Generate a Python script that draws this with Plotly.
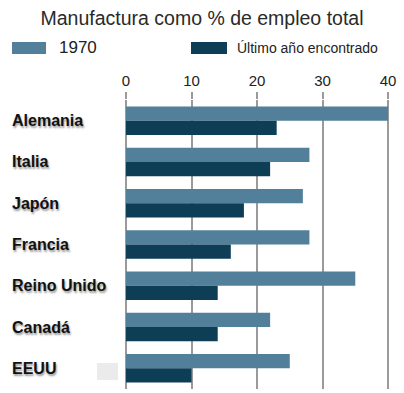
import plotly.graph_objects as go

countries = ["Alemania", "Italia", "Japón", "Francia", "Reino Unido", "Canadá", "EEUU"]
v1970 = [40, 28, 27, 28, 35, 22, 25]
vlatest = [23, 22, 18, 16, 14, 14, 10]
xticks = [0, 10, 20, 30, 40]

W, H = 404, 393
L, R, T, B = 126, 14, 100, 4
pw, ph = W - L - R, H - T - B

def px(x):
    return (x - L) / pw

def py(y):
    return (H - B - y) / ph

c1970 = "#527f9a"
clatest = "#0e3d56"

fig = go.Figure()
fig.add_trace(go.Bar(y=countries, x=v1970, orientation="h", name="1970",
                     marker=dict(color=c1970, line=dict(width=0))))
fig.add_trace(go.Bar(y=countries, x=vlatest, orientation="h", name="Último año encontrado",
                     marker=dict(color=clatest, line=dict(width=0))))

fig.update_layout(
    width=W, height=H,
    margin=dict(l=L, r=R, t=T, b=B, autoexpand=False),
    paper_bgcolor="white", plot_bgcolor="white",
    barmode="group", bargap=0.31, bargroupgap=0,
    showlegend=False,
    font=dict(family="Liberation Sans, Arial, sans-serif", color="#222"),
    title=dict(text="Manufactura como % de empleo total", x=0.5, xanchor="center",
               y=1 - 18 / H, yanchor="middle", font=dict(size=19.5, color="#2a2a2a")),
)
fig.update_xaxes(side="top", range=[0, 40.3], tickvals=xticks,
                 showgrid=True, gridcolor="#9a9a9a", gridwidth=2,
                 ticks="outside", ticklen=7, tickwidth=2, tickcolor="#9a9a9a",
                 tickfont=dict(size=15, color="#222"), zeroline=True,
                 zerolinecolor="#9a9a9a", zerolinewidth=2, showline=False,
                 automargin=False)
fig.update_yaxes(autorange="reversed", showticklabels=False, showgrid=False,
                 zeroline=False, showline=False)

for c in countries:
    fig.add_annotation(x=px(10), xref="paper", y=c, yref="y", text="<b>%s</b>" % c,
                       showarrow=False, xanchor="left", yanchor="middle",
                       font=dict(size=16, color="#111", shadow="1px 2px 2px #999"))

# legend (manual)
fig.add_shape(type="rect", xref="paper", yref="paper", x0=px(12), x1=px(46),
              y0=py(54), y1=py(42), fillcolor=c1970, line=dict(width=0))
fig.add_shape(type="rect", xref="paper", yref="paper", x0=px(191), x1=px(227),
              y0=py(54), y1=py(42), fillcolor=clatest, line=dict(width=0))
fig.add_annotation(x=px(57), xref="paper", y=py(48), yref="paper", text="1970",
                   showarrow=False, xanchor="left", yanchor="middle",
                   font=dict(size=17, color="#222"))
fig.add_annotation(x=px(235), xref="paper", y=py(48), yref="paper", text="Último año encontrado",
                   showarrow=False, xanchor="left", yanchor="middle",
                   font=dict(size=14, color="#222"))
# light grey artifact square
fig.add_shape(type="rect", xref="paper", yref="paper", x0=px(97), x1=px(118),
              y0=py(380), y1=py(363), fillcolor="#ebebeb", line=dict(width=0))

fig.write_html("out.html", config={"displayModeBar": False},
               post_script="document.body.style.margin='0';")
